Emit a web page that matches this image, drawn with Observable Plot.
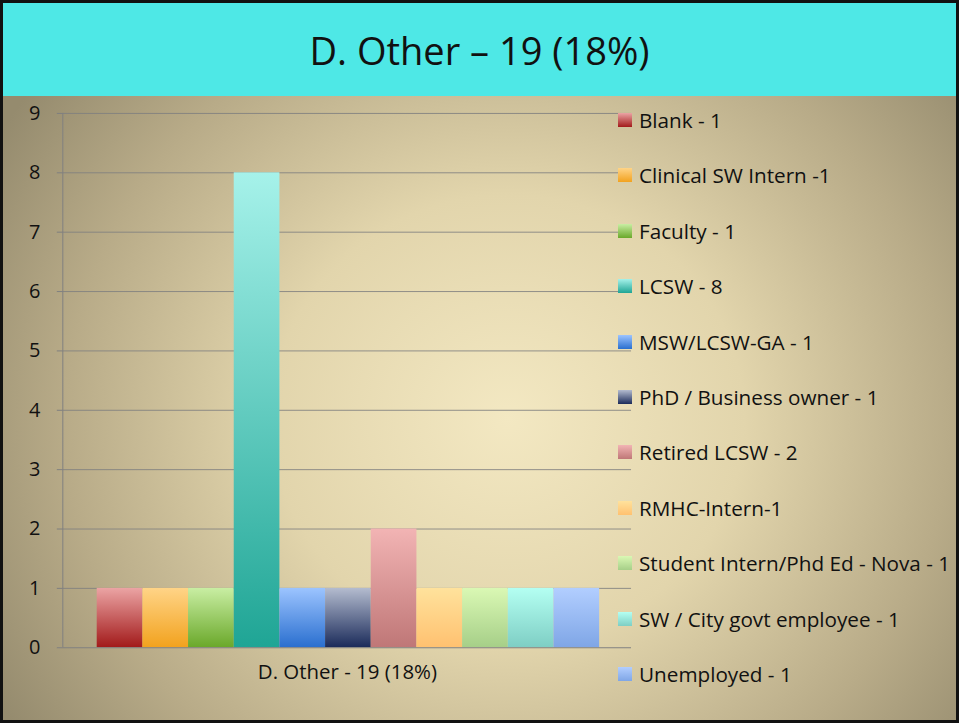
<!DOCTYPE html>
<html><head><meta charset="utf-8">
<script src="https://cdn.jsdelivr.net/npm/d3@7"></script>
<script src="https://cdn.jsdelivr.net/npm/@observablehq/plot@0.6"></script>
<style>
html,body{margin:0;padding:0;}
#wrap{position:relative;width:959px;height:723px;box-sizing:border-box;border:3px solid #111;overflow:hidden;
 background:radial-gradient(ellipse 62% 78% at 53% 58%, #f3e8c2 0%, #e2d5ac 40%, #b8ab88 75%, #958b6e 100%);
 font-family:"Open Sans", sans-serif;}
#title{height:93px;background:#4ee8e6;display:flex;align-items:center;justify-content:center;font-size:38px;color:#111;}
#chart{position:absolute;left:0;top:93px;}
#legend{position:absolute;left:615px;top:0;}
.item{position:absolute;left:0;display:flex;align-items:center;white-space:nowrap;font-size:20.7px;color:#111;height:22px;}
.sw{width:14px;height:14px;margin-right:7px;}
</style></head>
<body><div id="wrap"><div id="title"></div><div id="chart"></div><div id="legend"></div></div>
<script>
const chartTitle = "D. Other \u2013 19 (18%)";
const category = "D. Other - 19 (18%)";
const series = ["Blank - 1","Clinical SW Intern -1","Faculty - 1","LCSW - 8","MSW/LCSW-GA - 1","PhD / Business owner - 1","Retired LCSW - 2","RMHC-Intern-1","Student Intern/Phd Ed - Nova - 1","SW / City govt employee - 1","Unemployed - 1"];
const values = [1,1,1,8,1,1,2,1,1,1,1];
const topColors = ["#eba4a4","#ffd487","#c9eea3","#a6f2ea","#9cc4ff","#b4bccf","#f2b4b4","#ffe29c","#daf8b4","#b4fff2","#b2ceff"];
const bottomColors = ["#a21a1a","#f2a21e","#6aa82a","#1fa595","#2a6fcf","#1b2b5a","#bf7777","#ffc170","#a6cf88","#7ecec4","#7fa6e6"];
const yTicks = [0,1,2,3,4,5,6,7,8,9];

document.getElementById("title").textContent = chartTitle;
const data = series.map((s,i)=>({name:s, value:values[i], fill:`url(#grad${i})`}));

const plot = Plot.plot({
  width: 956, height: 624,
  marginLeft: 60, marginRight: 326, marginTop: 17, marginBottom: 71,
  style: {background: "transparent", fontFamily: "'Open Sans', sans-serif", fontSize: "20px", color: "#111", overflow: "visible"},
  x: {domain: series, range: [94, 598], padding: 0, round: false, axis: null},
  y: {domain: [0, 9], ticks: yTicks, label: null, tickSize: 6, tickPadding: 17, tickFormat: d3.format("d")},
  color: {type: "identity"},
  marks: [
    Plot.ruleY(yTicks.filter(d=>d>0), {stroke: "#808080", strokeWidth: 1, strokeOpacity: 0.85}),
    Plot.barY(data, {x: "name", y: "value", fill: "fill"}),
    Plot.ruleY([0], {stroke: "#808080", strokeWidth: 1.2}),
    Plot.text([category], {frameAnchor: "bottom", dy: 31, text: d => d, fontSize: 20.5, fill: "#111"})
  ]
});
const svg = d3.select(plot);
svg.append("line").attr("x1",60).attr("x2",60).attr("y1",17).attr("y2",553).attr("stroke","#808080");
svg.selectAll('[aria-label="y-axis tick"] path, [aria-label="y-axis tick"] line').attr("stroke","#808080");
const defs = svg.insert("defs", ":first-child");
series.forEach((s,i)=>{
  const g = defs.append("linearGradient").attr("id",`grad${i}`).attr("x1",0).attr("y1",0).attr("x2",0).attr("y2",1);
  g.append("stop").attr("offset","0%").attr("stop-color",topColors[i]);
  g.append("stop").attr("offset","100%").attr("stop-color",bottomColors[i]);
});
document.getElementById("chart").appendChild(plot);

const legend = document.getElementById("legend");
series.forEach((s,i)=>{
  const it = document.createElement("div");
  it.className = "item";
  it.style.top = (117 + i*55.4 - 11) + "px";
  const sw = document.createElement("div");
  sw.className = "sw";
  sw.style.background = `linear-gradient(${topColors[i]}, ${bottomColors[i]})`;
  const tx = document.createElement("span");
  tx.textContent = s;
  it.appendChild(sw); it.appendChild(tx);
  legend.appendChild(it);
});
</script></body></html>
